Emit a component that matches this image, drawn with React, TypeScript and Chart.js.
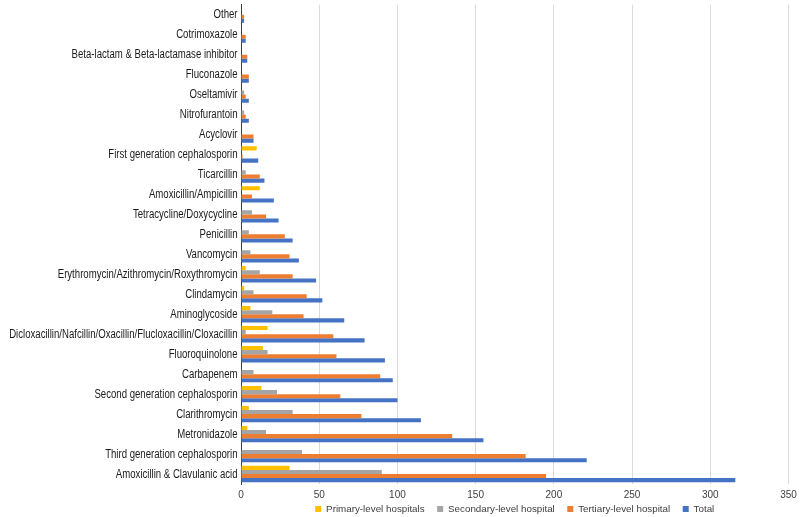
import React, { useEffect, useRef } from "react";
import { Chart, registerables } from "chart.js";

Chart.register(...registerables);

const categories = [
  "Other",
  "Cotrimoxazole",
  "Beta-lactam & Beta-lactamase inhibitor",
  "Fluconazole",
  "Oseltamivir",
  "Nitrofurantoin",
  "Acyclovir",
  "First generation cephalosporin",
  "Ticarcillin",
  "Amoxicillin/Ampicillin",
  "Tetracycline/Doxycycline",
  "Penicillin",
  "Vancomycin",
  "Erythromycin/Azithromycin/Roxythromycin",
  "Clindamycin",
  "Aminoglycoside",
  "Dicloxacillin/Nafcillin/Oxacillin/Flucloxacillin/Cloxacillin",
  "Fluoroquinolone",
  "Carbapenem",
  "Second generation cephalosporin",
  "Clarithromycin",
  "Metronidazole",
  "Third generation cephalosporin",
  "Amoxicillin & Clavulanic acid",
];

const primary = [0, 0, 0, 0, 0, 0, 0, 10, 0, 12, 0, 0, 0, 3, 2, 6, 17, 14, 0, 13, 5, 4, 0, 31];
const secondary = [0, 0, 0, 0, 2, 2, 0, 0, 3, 0, 7, 5, 6, 12, 8, 20, 3, 17, 8, 23, 33, 16, 39, 90];
const tertiary = [2, 3, 4, 5, 3, 3, 8, 1, 12, 7, 16, 28, 31, 33, 42, 40, 59, 61, 89, 63.5, 77, 135, 182, 195];
const total = [2, 3, 4, 5, 5, 5, 8, 11, 15, 21, 24, 33, 37, 48, 52, 66, 79, 92, 97, 100, 115, 155, 221, 316];

const seriesNames = [
  "Primary-level hospitals",
  "Secondary-level hospital",
  "Tertiary-level hospital",
  "Total",
];
const seriesColors = ["#FFC000", "#A5A5A5", "#ED7D31", "#4472C4"];

const xTicks = [0, 50, 100, 150, 200, 250, 300, 350];

const Y_LABEL_FONT = "12px 'Liberation Sans', Arial, sans-serif";
const Y_LABEL_SQUEEZE = 0.8;
const X_LABEL_FONT = "10px 'Liberation Sans', Arial, sans-serif";

// Draws the axis labels from the library's scales; y labels slightly condensed (Calibri-like).
const axisLabels = {
  id: "axisLabels",
  afterDraw(chart: any) {
    const ys = chart.scales.y;
    const xs = chart.scales.x;
    const ctx = chart.ctx;
    ctx.save();
    ctx.font = Y_LABEL_FONT;
    ctx.fillStyle = "#1a1a1a";
    ctx.textAlign = "right";
    ctx.textBaseline = "middle";
    const labels = chart.data.labels as string[];
    labels.forEach((lab, i) => {
      const y = ys.getPixelForTick(i);
      ctx.save();
      ctx.translate(ys.right - 3.5, y + 0.5);
      ctx.scale(Y_LABEL_SQUEEZE, 1);
      ctx.fillText(lab, 0, 0);
      ctx.restore();
    });
    ctx.font = X_LABEL_FONT;
    ctx.fillStyle = "#404040";
    ctx.textAlign = "center";
    ctx.textBaseline = "middle";
    xs.ticks.forEach((t: any) => {
      ctx.fillText(String(t.value), xs.getPixelForValue(t.value), ys.bottom + 11);
    });
    ctx.restore();
  },
};

export default function App() {
  const ref = useRef<HTMLCanvasElement | null>(null);

  useEffect(() => {
    document.body.style.margin = "0";
    const canvas = ref.current;
    if (!canvas) return;
    const values = [primary, secondary, tertiary, total];
    const chart = new Chart(canvas, {
      type: "bar",
      data: {
        labels: categories,
        datasets: values.map((v, i) => ({
          label: seriesNames[i],
          data: v,
          backgroundColor: seriesColors[i],
          borderWidth: 0,
          barPercentage: 1,
          categoryPercentage: 0.82,
        })),
      },
      options: {
        indexAxis: "y",
        animation: false,
        responsive: false,
        maintainAspectRatio: false,
        layout: { padding: { top: 4.7, right: 11.5, bottom: -6.9, left: 0 } },
        plugins: {
          legend: {
            position: "bottom",
            fullSize: false,
            labels: {
              boxWidth: 6,
              boxHeight: 6,
              padding: 12.5,
              color: "#404040",
              font: { family: "'Liberation Sans', Arial, sans-serif", size: 9.8 },
            },
          },
          tooltip: { enabled: false },
        },
        scales: {
          x: {
            min: 0,
            max: 350,
            afterBuildTicks: (scale: any) => {
              scale.ticks = xTicks.map((v) => ({ value: v }));
            },
            afterFit: (scale: any) => {
              scale.height = 7.6;
            },
            grid: {
              color: (ctx: any) => (ctx.tick && ctx.tick.value === 0 ? "rgba(0,0,0,0)" : "#D9D9D9"),
              lineWidth: 1,
              drawTicks: false,
            },
            border: { display: false },
            ticks: { display: false },
          },
          y: {
            grid: { display: false, drawTicks: false },
            border: { display: true, color: "#404040", width: 1 },
            afterFit: (scale: any) => {
              scale.width = 241;
            },
            ticks: { display: false, autoSkip: false },
          },
        },
      },
      plugins: [axisLabels],
    });
    return () => chart.destroy();
  }, []);

  return (
    <div style={{ width: 800, height: 517 }}>
      <canvas ref={ref} width={800} height={517} style={{ display: "block", width: 800, height: 517 }} />
    </div>
  );
}
